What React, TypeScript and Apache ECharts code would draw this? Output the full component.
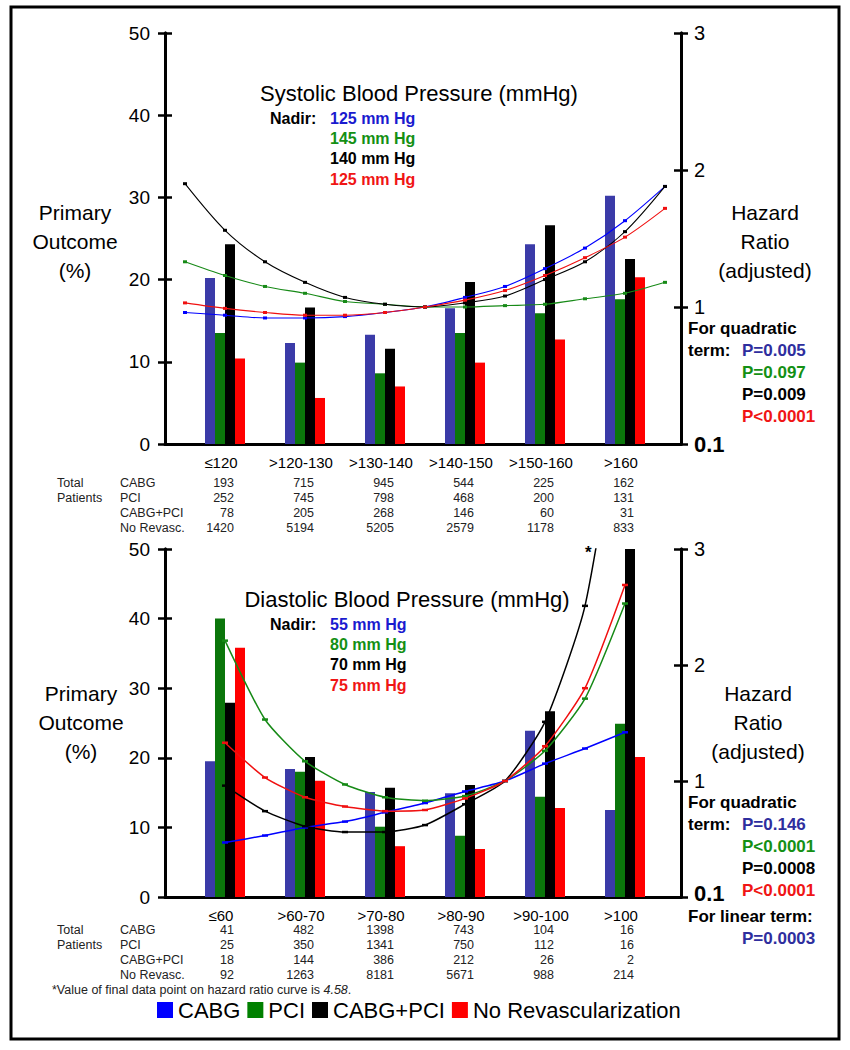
import React, { useEffect, useRef } from "react";
import * as echarts from "echarts";

const FONT = '"Liberation Sans", Arial, Helvetica, sans-serif';

// ---------- Systolic (top) ----------
const sysCategories = ["≤120", ">120-130", ">130-140", ">140-150", ">150-160", ">160"];
const sysCABG = [20.2, 12.3, 13.3, 16.5, 24.3, 30.2];
const sysPCI = [13.5, 9.9, 8.6, 13.5, 15.9, 17.6];
const sysBoth = [24.3, 16.6, 11.6, 19.7, 26.6, 22.5];
const sysNoRev = [10.4, 5.6, 7.0, 9.9, 12.7, 20.3];

const sysBP = [110, 115, 120, 125, 130, 135, 140, 145, 150, 155, 160, 165, 170];
const sysHR_CABG = [0.96, 0.94, 0.92, 0.92, 0.93, 0.96, 1.0, 1.07, 1.15, 1.28, 1.43, 1.63, 1.88];
const sysHR_PCI = [1.33, 1.23, 1.15, 1.1, 1.04, 1.02, 1.0, 1.0, 1.01, 1.02, 1.06, 1.1, 1.18];
const sysHR_Both = [1.9, 1.56, 1.33, 1.18, 1.07, 1.02, 1.0, 1.03, 1.08, 1.2, 1.33, 1.55, 1.88];
const sysHR_NoRev = [1.03, 0.99, 0.96, 0.94, 0.94, 0.96, 1.0, 1.05, 1.12, 1.23, 1.36, 1.51, 1.72];

const sysN_CABG = [193, 715, 945, 544, 225, 162];
const sysN_PCI = [252, 745, 798, 468, 200, 131];
const sysN_Both = [78, 205, 268, 146, 60, 31];
const sysN_NoRev = [1420, 5194, 5205, 2579, 1178, 833];

// ---------- Diastolic (bottom) ----------
const diaCategories = ["≤60", ">60-70", ">70-80", ">80-90", ">90-100", ">100"];
const diaCABG = [19.5, 18.4, 15.1, 14.9, 23.9, 12.5];
const diaPCI = [40.0, 18.0, 10.1, 8.8, 14.4, 24.9];
const diaBoth = [27.9, 20.1, 15.7, 16.1, 26.7, 50.0];
const diaNoRev = [35.8, 16.7, 7.3, 6.9, 12.8, 20.1];

const diaBP = [55, 60, 65, 70, 75, 80, 85, 90, 95, 100, 105];
const diaHR_CABG = [0.47, 0.53, 0.6, 0.65, 0.73, 0.81, 0.91, 1.0, 1.15, 1.28, 1.42];
const diaHR_PCI = [2.21, 1.53, 1.17, 0.97, 0.86, 0.83, 0.87, 1.0, 1.26, 1.71, 2.53];
const diaHR_Both = [0.96, 0.74, 0.61, 0.56, 0.56, 0.62, 0.8, 1.0, 1.51, 2.51, 4.58];
const diaHR_NoRev = [1.33, 1.03, 0.86, 0.78, 0.74, 0.75, 0.85, 1.0, 1.3, 1.8, 2.69];

const diaN_CABG = [41, 482, 1398, 743, 104, 16];
const diaN_PCI = [25, 350, 1341, 750, 112, 16];
const diaN_Both = [18, 144, 386, 212, 26, 2];
const diaN_NoRev = [92, 1263, 8181, 5671, 988, 214];

const groupNames = ["CABG", "PCI", "CABG+PCI", "No Revascularization"];
const tableRowNames = ["CABG", "PCI", "CABG+PCI", "No Revasc."];
const leftTicksMax = 50;
const rightTicksMax = 3;

const sysNadir = ["125 mm Hg", "145 mm Hg", "140 mm Hg", "125 mm Hg"];
const diaNadir = ["55 mm Hg", "80 mm Hg", "70 mm Hg", "75 mm Hg"];
const sysP = ["P=0.005", "P=0.097", "P=0.009", "P<0.0001"];
const diaP = ["P=0.146", "P<0.0001", "P=0.0008", "P<0.0001"];
const diaLinearP = "P=0.0003";

// ---------- styling ----------
const BAR_COLORS = ["#3b3ba8", "#0b760b", "#000000", "#ff0000"];
const LINE_COLORS = ["#0000ff", "#178a17", "#000000", "#f01010"];
const TEXT_COLORS = ["#1a1acf", "#149014", "#000000", "#f01515"];
const P_COLORS = ["#2e2e9e", "#149014", "#000000", "#f01515"];
const LEGEND_COLORS = ["#0000ff", "#008000", "#000000", "#ff0000"];

const DATA_LEFT = 185;
const DATA_W = 480;
const CAT_W = DATA_W / 6;

function txt(x: number, y: number, text: string, o: any = {}) {
  return {
    type: "text",
    x,
    y,
    silent: true,
    style: {
      text,
      fontFamily: FONT,
      fontSize: o.size ?? 13,
      fontWeight: o.weight ?? "normal",
      fill: o.color ?? "#000",
      align: o.align ?? "left",
      verticalAlign: "middle",
      lineHeight: o.lineHeight,
      rich: o.rich,
    },
  };
}

function frameAxes(gridIndex: number, zeroLift: number) {
  const axLine = { show: true, lineStyle: { color: "#000", width: 3 } };
  const tick = (inside: boolean) => ({ show: true, inside, length: 7, lineStyle: { color: "#000", width: 2.5 } });
  const x = {
    type: "value",
    gridIndex,
    min: 0,
    max: 1,
    axisLine: axLine,
    axisTick: { show: false },
    axisLabel: { show: false },
    splitLine: { show: false },
  };
  const left = (inside: boolean) => ({
    type: "value",
    gridIndex,
    position: "left",
    min: 0,
    max: leftTicksMax,
    interval: 10,
    axisLine: axLine,
    axisTick: tick(inside),
    axisLabel: inside
      ? { show: false }
      : { show: true, fontSize: 19, color: "#000", fontFamily: FONT, margin: 15 },
    splitLine: { show: false },
  });
  const right = (inside: boolean) => ({
    type: "value",
    gridIndex,
    position: "right",
    min: 0,
    max: rightTicksMax,
    interval: 1,
    axisLine: axLine,
    axisTick: tick(inside),
    axisLabel: inside
      ? { show: false }
      : {
          show: true,
          margin: 13,
          formatter: (v: number) => (v === 0 ? "{b|0.1}" : "{n|" + v + "}"),
          rich: {
            b: { fontSize: 22, lineHeight: 20, fontWeight: "bold", color: "#000", fontFamily: FONT, padding: [0, 0, zeroLift, 0] },
            n: { fontSize: 20, color: "#000", fontFamily: FONT },
          },
        },
    splitLine: { show: false },
  });
  return { x, ys: [left(false), left(true), right(false), right(true)] };
}

function dataAxes(gridIndex: number, cats: string[], bpMin: number, bpMax: number) {
  return {
    xs: [
      {
        type: "category",
        gridIndex,
        data: cats,
        position: "bottom",
        axisLine: { show: false },
        axisTick: { show: false },
        axisLabel: { show: true, interval: 0, fontSize: 15, color: "#000", fontFamily: FONT, margin: 11, padding: [0, 8, 0, 0] },
        splitLine: { show: false },
      },
      { type: "value", gridIndex, min: bpMin, max: bpMax, show: false, position: "top", splitLine: { show: false } },
    ],
    ys: [
      { type: "value", gridIndex, min: 0, max: leftTicksMax, show: false, splitLine: { show: false } },
      { type: "value", gridIndex, min: 0, max: rightTicksMax, show: false, position: "right", splitLine: { show: false } },
    ],
  };
}

function makeSeries(
  catX: number,
  valX: number,
  barY: number,
  hrY: number,
  bars: number[][],
  bp: number[],
  hrs: number[][],
  symbolSize: any,
  lineWidth: number,
  smooth: number
) {
  const out: any[] = [];
  bars.forEach((vals, i) => {
    out.push({
      type: "bar",
      name: groupNames[i],
      xAxisIndex: catX,
      yAxisIndex: barY,
      data: vals,
      barWidth: 10,
      barGap: "0%",
      itemStyle: { color: BAR_COLORS[i] },
      z: 2,
    });
  });
  hrs.forEach((vals, i) => {
    out.push({
      type: "line",
      name: groupNames[i] + " HR",
      xAxisIndex: valX,
      yAxisIndex: hrY,
      data: bp.map((b, k) => [b, vals[k]]),
      smooth,
      clip: true,
      symbol: "rect",
      symbolSize,
      showSymbol: true,
      lineStyle: { color: LINE_COLORS[i], width: lineWidth },
      itemStyle: { color: LINE_COLORS[i] },
      z: 5,
    });
  });
  return out;
}

function tableGraphics(rowYs: number[], counts: number[][]) {
  const g: any[] = [];
  g.push(txt(57, rowYs[0], "Total", { size: 12.5, color: "#222" }));
  g.push(txt(57, rowYs[1], "Patients", { size: 12.5, color: "#222" }));
  tableRowNames.forEach((n, r) => {
    g.push(txt(120, rowYs[r], n, { size: 12.5, color: "#222" }));
    counts[r].forEach((v, i) => {
      const cx = DATA_LEFT + (i + 0.5) * CAT_W + 9;
      g.push(txt(cx, rowYs[r], String(v), { size: 12.5, color: "#222", align: "right" }));
    });
  });
  return g;
}

function buildOption() {
  const fTop = frameAxes(0, 0);
  const dTop = dataAxes(1, sysCategories, 110, 170);
  const fBot = frameAxes(2, 8);
  const dBot = dataAxes(3, diaCategories, 50, 110);

  const xAxis = [fTop.x, ...dTop.xs, fBot.x, ...dBot.xs];
  const yAxis = [...fTop.ys, ...dTop.ys, ...fBot.ys, ...dBot.ys];

  const series = [
    ...makeSeries(1, 2, 4, 5, [sysCABG, sysPCI, sysBoth, sysNoRev], sysBP,
      [sysHR_CABG, sysHR_PCI, sysHR_Both, sysHR_NoRev], [4, 3], 1.1, 0.3),
    ...makeSeries(4, 5, 10, 11, [diaCABG, diaPCI, diaBoth, diaNoRev], diaBP,
      [diaHR_CABG, diaHR_PCI, diaHR_Both, diaHR_NoRev], [6, 2.5], 1.5, 0.2),
  ];

  const g: any[] = [];
  g.push({ type: "rect", silent: true, shape: { x: 11, y: 7, width: 828, height: 1032 }, style: { fill: "none", stroke: "#000", lineWidth: 3 } });

  // top chart texts
  g.push(txt(419, 93, "Systolic Blood Pressure (mmHg)", { size: 22, align: "center" }));
  g.push(txt(270, 118, "Nadir:", { size: 16, weight: "bold" }));
  sysNadir.forEach((t, i) => g.push(txt(330, 118 + i * 20.4, t, { size: 16, weight: "bold", color: TEXT_COLORS[i] })));
  g.push(txt(75, 241, "Primary\nOutcome\n(%)", { size: 21, align: "center", lineHeight: 29 }));
  g.push(txt(765, 241, "Hazard\nRatio\n(adjusted)", { size: 21, align: "center", lineHeight: 29 }));
  g.push(txt(688, 328, "For quadratic", { size: 17, weight: "bold" }));
  g.push(txt(688, 350, "term:", { size: 17, weight: "bold" }));
  sysP.forEach((t, i) => g.push(txt(742, 350 + i * 22.3, t, { size: 17, weight: "bold", color: P_COLORS[i] })));
  g.push(...tableGraphics([483, 498, 513, 528], [sysN_CABG, sysN_PCI, sysN_Both, sysN_NoRev]));

  // bottom chart texts
  g.push(txt(407, 599, "Diastolic Blood Pressure (mmHg)", { size: 22, align: "center" }));
  g.push(txt(270, 624, "Nadir:", { size: 16, weight: "bold" }));
  diaNadir.forEach((t, i) => g.push(txt(330, 624 + i * 20.4, t, { size: 16, weight: "bold", color: TEXT_COLORS[i] })));
  g.push(txt(81, 722, "Primary\nOutcome\n(%)", { size: 21, align: "center", lineHeight: 29 }));
  g.push(txt(758, 722, "Hazard\nRatio\n(adjusted)", { size: 21, align: "center", lineHeight: 29 }));
  g.push(txt(688, 802, "For quadratic", { size: 17, weight: "bold" }));
  g.push(txt(688, 824, "term:", { size: 17, weight: "bold" }));
  diaP.forEach((t, i) => g.push(txt(742, 824 + i * 22.3, t, { size: 17, weight: "bold", color: P_COLORS[i] })));
  g.push(txt(688, 916, "For linear term:", { size: 17, weight: "bold" }));
  g.push(txt(742, 938, diaLinearP, { size: 17, weight: "bold", color: P_COLORS[0] }));
  g.push(txt(585, 552, "*", { size: 17, weight: "bold" }));
  g.push(...tableGraphics([930, 945, 960, 975], [diaN_CABG, diaN_PCI, diaN_Both, diaN_NoRev]));

  // footnote
  g.push(txt(52, 990, "{a|*Value of final data point on hazard ratio curve is }{i|4.58}{a|.}", {
    size: 12.5,
    color: "#222",
    rich: {
      a: { fontSize: 12.5, lineHeight: 14, fontFamily: FONT, fill: "#222", color: "#222" },
      i: { fontSize: 12.5, lineHeight: 14, fontFamily: FONT, fontStyle: "italic", fill: "#222", color: "#222" },
    },
  }));

  return {
    animation: false,
    backgroundColor: "#ffffff",
    grid: [
      { left: 165, top: 33, width: 516, height: 411 },
      { left: DATA_LEFT, top: 33, width: DATA_W, height: 411 },
      { left: 165, top: 549, width: 516, height: 348 },
      { left: DATA_LEFT, top: 549, width: DATA_W, height: 348 },
    ],
    xAxis,
    yAxis,
    legend: {
      left: 157,
      top: 999,
      padding: 0,
      itemWidth: 16,
      itemHeight: 16,
      itemGap: 7,
      icon: "rect",
      selectedMode: false,
      textStyle: { fontSize: 22, lineHeight: 18, color: "#000", fontFamily: FONT },
      data: groupNames.map((n, i) => ({ name: n, itemStyle: { color: LEGEND_COLORS[i] } })),
    },
    series,
    graphic: g,
  };
}

export default function App() {
  const ref = useRef<HTMLDivElement>(null);
  useEffect(() => {
    if (!ref.current) return;
    const chart = echarts.init(ref.current, null, { renderer: "svg" });
    chart.setOption(buildOption() as any);
    return () => chart.dispose();
  }, []);
  return (
    <div
      ref={ref}
      style={{ position: "absolute", left: 0, top: 0, width: 850, height: 1050, background: "#fff" }}
    />
  );
}
